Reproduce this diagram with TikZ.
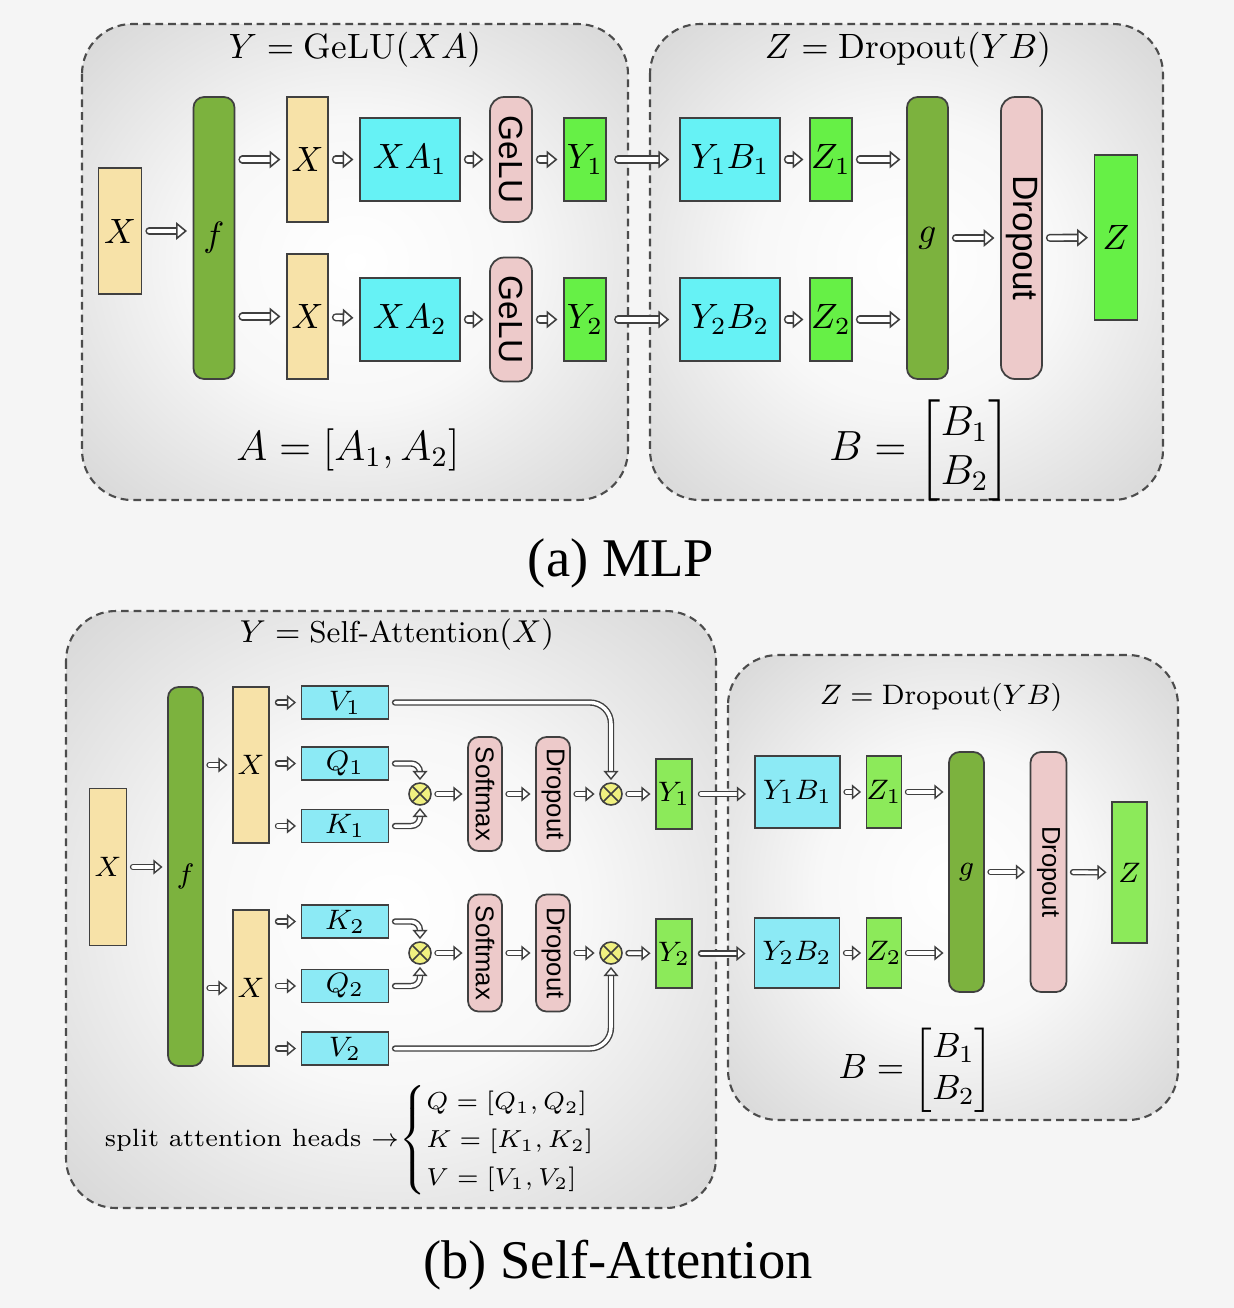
\documentclass[tikz,border=0pt]{standalone}
\usepackage{amsmath}
\usepackage{graphicx}
\usepackage{fontspec}
\usepackage{xcolor}
\usepackage{tikz}
\usetikzlibrary{arrows.meta,positioning}

\newfontfamily\capfont{Liberation Serif}
\newfontfamily\labfont{Liberation Sans}

\definecolor{tanbox}{RGB}{247,226,168}
\definecolor{fgreen}{RGB}{124,178,62}
\definecolor{cyanA}{RGB}{102,242,245}
\definecolor{cyanB}{RGB}{140,234,245}
\definecolor{pinkbox}{RGB}{237,202,202}
\definecolor{limeA}{RGB}{102,240,70}
\definecolor{limeB}{RGB}{140,234,90}
\definecolor{mulyellow}{RGB}{240,240,128}

\pgfdeclareradialshading{panelshade}{\pgfpoint{0bp}{0bp}}{%
  color(0bp)=(white); color(15bp)=(white!97!black);
  color(50bp)=(black!25); color(72bp)=(black!36)}

\begin{document}
\begin{tikzpicture}[
      x=0.01cm, y=-0.01cm,
      panel/.style={draw=black!70, dash pattern=on 2.2pt off 1.4pt, line width=0.6pt,
                    rounded corners=0.5cm, shading=panelshade},
      box/.style={rectangle, draw=black!75, line width=0.5pt, inner sep=0pt, font=\normalsize},
      boxb/.style={box, font=\footnotesize},
      wh/.style 2 args={minimum width=#1*0.01cm, minimum height=#2*0.01cm},
      mul/.style={circle, draw=black!75, line width=0.45pt, fill=mulyellow, inner sep=0pt,
                  minimum size=0.22cm,
                  path picture={\draw[black!75, line width=0.45pt]
                    (path picture bounding box.north west) -- (path picture bounding box.south east)
                    (path picture bounding box.north east) -- (path picture bounding box.south west);}},
      arr/.style={draw=black!75, line width=0.45pt, double=white, double distance=1.4pt, line cap=round,
                  -{Triangle[length=3.1pt, width=5pt, fill=white, line width=0.45pt]},
                  shorten <=2pt, shorten >=1.6pt},
      arrb/.style={arr, line width=0.4pt, double distance=1pt,
                  -{Triangle[length=2.6pt, width=4.2pt, fill=white, line width=0.4pt]},
                  shorten <=1.6pt, shorten >=1.3pt}
    ]
    \fill[black!4] (0,0) rectangle (1234,1308);
    \useasboundingbox (0,0) rectangle (1234,1308);

    % (a) MLP
    \shadedraw[panel] (82,24) rectangle (628,500);
    \shadedraw[panel] (650,24) rectangle (1163,500);

    \node (ttla) at (355,50) {$Y=\mathrm{GeLU}(XA)$};
    \node (ttlb) at (908,50) {$Z=\mathrm{Dropout}(YB)$};

    \node[box,fill=tanbox,wh={43}{126}] (xin) at (120,231) {$X$};
    \node[box,fill=fgreen,rounded corners=3pt,wh={41}{282}] (fa) at (214,238) {$f$};
    \node[box,fill=tanbox,wh={41}{125}] (xt) at (307.5,159.5) {$X$};
    \node[box,fill=tanbox,wh={41}{125}] (xb) at (307.5,316.5) {$X$};
    \node[box,fill=cyanA,wh={100}{83}] (xa1) at (410,159.5) {$XA_1$};
    \node[box,fill=cyanA,wh={100}{83}] (xa2) at (410,319.5) {$XA_2$};
    \node[box,fill=pinkbox,rounded corners=4pt,wh={42}{125}] (gl1) at (511,159.5) {\fontsize{9.5}{11}\labfont\selectfont\rotatebox{-90}{GeLU}};
    \node[box,fill=pinkbox,rounded corners=4pt,wh={42}{124}] (gl2) at (511,319.5) {\fontsize{9.5}{11}\labfont\selectfont\rotatebox{-90}{GeLU}};
    \node[box,fill=limeA,wh={42}{83}] (ya1) at (585,159.5) {$Y_1$};
    \node[box,fill=limeA,wh={42}{83}] (ya2) at (585,319.5) {$Y_2$};
    \node[box,fill=cyanA,wh={100}{83}] (yb1) at (730,159.5) {$Y_1B_1$};
    \node[box,fill=cyanA,wh={100}{83}] (yb2) at (730,319.5) {$Y_2B_2$};
    \node[box,fill=limeA,wh={42}{83}] (za1) at (831,159.5) {$Z_1$};
    \node[box,fill=limeA,wh={42}{83}] (za2) at (831,319.5) {$Z_2$};
    \node[box,fill=fgreen,rounded corners=3pt,wh={41}{282}] (ga) at (927.5,238) {$g$};
    \node[box,fill=pinkbox,rounded corners=4pt,wh={41}{282}] (dra) at (1021.5,238) {\labfont\rotatebox{-90}{Dropout}};
    \node[box,fill=limeA,wh={43}{165}] (zout) at (1116,237.5) {$Z$};

    \node[font=\large] (aeq) at (348,450) {$A=[A_1,A_2]$};
    \node[font=\large] (beq) at (920,450) {$B=\begin{bmatrix}B_1\\B_2\end{bmatrix}$};

    \draw[arr] (xin.east) -- (xin.east -| fa.west);
    \draw[arr] (fa.east |- xt) -- (xt.west);
    \draw[arr] (fa.east |- xb) -- (xb.west);
    \draw[arr] (xt) -- (xa1);
    \draw[arr] (xb) -- (xa2);
    \draw[arr] (xa1) -- (gl1);
    \draw[arr] (xa2) -- (gl2);
    \draw[arr] (gl1) -- (ya1);
    \draw[arr] (gl2) -- (ya2);
    \draw[arr,shorten <=3.2pt,shorten >=2.8pt] (ya1) -- (yb1);
    \draw[arr,shorten <=3.2pt,shorten >=2.8pt] (ya2) -- (yb2);
    \draw[arr] (yb1) -- (za1);
    \draw[arr] (yb2) -- (za2);
    \draw[arr] (za1.east) -- (za1.east -| ga.west);
    \draw[arr] (za2.east) -- (za2.east -| ga.west);
    \draw[arr] (ga) -- (dra);
    \draw[arr] (dra) -- (zout);

    \node[font=\capfont\fontsize{15.5}{18}\selectfont] (capa) at (621,563) {(a) MLP};

    % (b) Self-Attention
    \shadedraw[panel] (66,611) rectangle (716,1208);
    \shadedraw[panel] (728,655) rectangle (1178,1120);

    \node[font=\fontsize{8.6}{10}\selectfont] (ttlc) at (397,635) {$Y=\text{Self-Attention}(X)$};
    \node[font=\footnotesize] (ttld) at (941,697) {$Z=\mathrm{Dropout}(YB)$};

    \node[boxb,fill=tanbox,wh={37}{157}] (xinb) at (108,867) {$X$};
    \node[boxb,fill=fgreen,rounded corners=3pt,wh={35}{379}] (fb) at (185.5,876.5) {$f$};
    \node[boxb,fill=tanbox,wh={36}{156}] (xbt) at (251,765) {$X$};
    \node[boxb,fill=tanbox,wh={36}{156}] (xbb) at (251,988) {$X$};
    \node[boxb,fill=cyanB,wh={87}{33}] (v1) at (345,702.5) {$V_1$};
    \node[boxb,fill=cyanB,wh={87}{33}] (q1) at (345,763.5) {$Q_1$};
    \node[boxb,fill=cyanB,wh={87}{33}] (k1) at (345,826) {$K_1$};
    \node[boxb,fill=cyanB,wh={87}{33}] (k2) at (345,921.5) {$K_2$};
    \node[boxb,fill=cyanB,wh={87}{33}] (q2) at (345,986) {$Q_2$};
    \node[boxb,fill=cyanB,wh={87}{33}] (v2) at (345,1048.5) {$V_2$};
    \node[mul] (m1) at (420,794) {};
    \node[mul] (m2) at (611,794) {};
    \node[mul] (m3) at (420,953) {};
    \node[mul] (m4) at (611,953) {};
    \node[boxb,fill=pinkbox,rounded corners=3pt,wh={34}{114}] (sm1) at (485,794) {\fontsize{7.3}{8}\labfont\selectfont\rotatebox{-90}{Softmax}};
    \node[boxb,fill=pinkbox,rounded corners=3pt,wh={34}{114}] (do1) at (553,794) {\fontsize{7.3}{8}\labfont\selectfont\rotatebox{-90}{Dropout}};
    \node[boxb,fill=pinkbox,rounded corners=3pt,wh={34}{117}] (sm2) at (485,953) {\fontsize{7.3}{8}\labfont\selectfont\rotatebox{-90}{Softmax}};
    \node[boxb,fill=pinkbox,rounded corners=3pt,wh={34}{117}] (do2) at (553,953) {\fontsize{7.3}{8}\labfont\selectfont\rotatebox{-90}{Dropout}};
    \node[boxb,fill=limeB,wh={36}{70}] (y1) at (674,794) {$Y_1$};
    \node[boxb,fill=limeB,wh={36}{69}] (y2) at (674,953.5) {$Y_2$};
    \node[boxb,fill=cyanB,wh={85}{72}] (yb1b) at (797.5,792) {$Y_1B_1$};
    \node[boxb,fill=cyanB,wh={85}{70}] (yb2b) at (797,953) {$Y_2B_2$};
    \node[boxb,fill=limeB,wh={34}{72}] (zb1) at (884,792) {$Z_1$};
    \node[boxb,fill=limeB,wh={34}{70}] (zb2) at (884,953) {$Z_2$};
    \node[boxb,fill=fgreen,rounded corners=3pt,wh={35}{240}] (gb) at (966.5,872) {$g$};
    \node[boxb,fill=pinkbox,rounded corners=3pt,wh={36}{240}] (drb) at (1048.5,872) {\fontsize{7.3}{8}\labfont\selectfont\rotatebox{-90}{Dropout}};
    \node[boxb,fill=limeB,wh={35}{141}] (zoutb) at (1129.5,872.5) {$Z$};

    \node (beqb) at (916,1070) {$B=\begin{bmatrix}B_1\\B_2\end{bmatrix}$};
    \node[font=\fontsize{7.1}{9}\selectfont] (heads) at (252,1140) {split attention heads $\rightarrow$};
    \node[font=\fontsize{7.4}{9}\selectfont, right=-4.5pt of heads, inner xsep=1pt] (qkv)
      {$\begin{cases}Q=[Q_1,Q_2]\\K=[K_1,K_2]\\V=[V_1,V_2]\end{cases}$};

    \draw[arrb] (xinb.east) -- (xinb.east -| fb.west);
    \draw[arrb] (fb.east |- xbt) -- (xbt.west);
    \draw[arrb] (fb.east |- xbb) -- (xbb.west);
    \foreach \n in {v1,q1,k1} \draw[arrb,shorten <=2.3pt] (xbt.east |- \n) -- (\n.west);
    \foreach \n in {k2,q2,v2} \draw[arrb,shorten <=2.3pt] (xbb.east |- \n) -- (\n.west);
    \draw[arrb,rounded corners=2.5pt,shorten >=0.6pt] (q1.east) -| (m1.north);
    \draw[arrb,rounded corners=2.5pt,shorten >=0.6pt] (k1.east) -| (m1.south);
    \draw[arrb,rounded corners=2.5pt,shorten >=0.6pt] (k2.east) -| (m3.north);
    \draw[arrb,rounded corners=2.5pt,shorten >=0.6pt] (q2.east) -| (m3.south);
    \draw[arrb,rounded corners=6pt,shorten >=0.6pt] (v1.east) -| (m2.north);
    \draw[arrb,rounded corners=6pt,shorten >=0.6pt] (v2.east) -| (m4.south);
    \draw[arrb] (m1) -- (sm1);
    \draw[arrb] (sm1) -- (do1);
    \draw[arrb] (do1) -- (m2);
    \draw[arrb] (m2) -- (y1);
    \draw[arrb] (m3) -- (sm2);
    \draw[arrb] (sm2) -- (do2);
    \draw[arrb] (do2) -- (m4);
    \draw[arrb] (m4) -- (y2);
    \draw[arrb,shorten <=2.3pt,shorten >=2.3pt] (y1.east) -- (y1.east -| yb1b.west);
    \draw[arrb,shorten <=2.3pt,shorten >=2.3pt] (y2.east) -- (y2.east -| yb2b.west);
    \draw[arrb] (yb1b) -- (zb1);
    \draw[arrb] (yb2b) -- (zb2);
    \draw[arrb] (zb1.east) -- (zb1.east -| gb.west);
    \draw[arrb] (zb2.east) -- (zb2.east -| gb.west);
    \draw[arrb] (gb) -- (drb);
    \draw[arrb] (drb) -- (zoutb);

    \node[font=\capfont\fontsize{15.5}{18}\selectfont] (capb) at (618,1265) {(b) Self-Attention};
  \end{tikzpicture}
\end{document}
